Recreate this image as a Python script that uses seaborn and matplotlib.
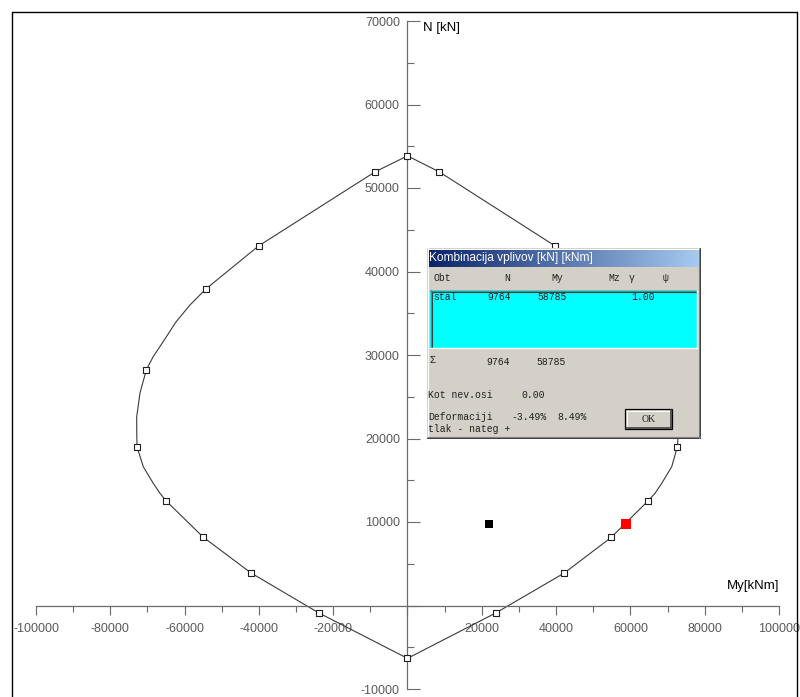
import numpy as np
import pandas as pd
import matplotlib
matplotlib.use("Agg")
import matplotlib.pyplot as plt
import seaborn as sns
from matplotlib.patches import Rectangle
from matplotlib.lines import Line2D

# ---------------- data ----------------
curve_My = [0, 8560, 39700, 54240, 58550, 62320, 65820, 68510, 70300, 72010, 72900, 72870,
            72630, 71120, 68430, 66630, 64740, 54870, 42210, 23740, 0,
            -23830, -42130, -55060, -65000, -66630, -68430, -71120, -72800, -72870, -72900,
            -72010, -70300, -68510, -65820, -62320, -58550, -54240, -40060, -8750, 0]
curve_N = [53850, 51930, 43070, 37920, 35990, 33960, 31560, 29760, 28220, 25450, 22570, 20420,
           18990, 16620, 14630, 13440, 12520, 8170, 3890, -900, -6330,
           -900, 3900, 8210, 12540, 13440, 14630, 16620, 18990, 20420, 22570,
           25450, 28220, 29760, 31560, 33960, 35990, 37920, 43070, 51930, 53850]
curve_marked = [1, 1, 1, 1, 0, 0, 0, 0, 1, 0, 0, 0,
                1, 0, 0, 0, 1, 1, 1, 1, 1,
                1, 1, 1, 1, 0, 0, 0, 1, 0, 0,
                0, 1, 0, 0, 0, 0, 1, 1, 1, 0]
load_My = [58785]
load_N = [9764]
other_My = [21940]
other_N = [9764]

x_ticks = list(range(-100000, 100001, 20000))
y_ticks = list(range(-10000, 70001, 10000))
x_label = "My[kNm]"
y_label = "N [kN]"

dlg_title = "Kombinacija vplivov [kN] [kNm]"
dlg_header = ["Obt", "N", "My", "Mz", "γ", "ψ"]
dlg_row = ["stal", "9764", "58785", "1.00"]
dlg_sum = ["Σ", "9764", "58785"]
dlg_angle = ["Kot nev.osi", "0.00"]
dlg_def = ["Deformaciji", "-3.49%", "8.49%"]
dlg_note = "tlak - nateg +"

# ---------------- figure ----------------
sns.set_theme(style="white")
plt.rcParams['font.family'] = ['Liberation Sans', 'DejaVu Sans']

W, H = 800, 697
fig = plt.figure(figsize=(W / 100, H / 100), dpi=100)
ax = fig.add_axes([0, 0, 1, 1])
ax.set_facecolor("white")

df = pd.DataFrame({"My": curve_My, "N": curve_N, "m": curve_marked})
sns.lineplot(data=df, x="My", y="N", sort=False, estimator=None, ax=ax,
             color="#3a3a3a", linewidth=0.8, zorder=2)
mk = df[df["m"] == 1]
sns.scatterplot(data=mk, x="My", y="N", ax=ax, marker="s", s=18,
                facecolor="white", edgecolor="#202020", linewidth=0.8, zorder=3)
sns.scatterplot(x=load_My, y=load_N, ax=ax, marker="s", s=45,
                color="#ff0000", linewidth=0, zorder=4)
sns.scatterplot(x=other_My, y=other_N, ax=ax, marker="s", s=38,
                color="black", linewidth=0, zorder=4)

px_per = 743 / 200000.0
x0 = 407.5
ax.set_xlim(-x0 / px_per, (W - x0) / px_per)
ny = 83.5 / 10000.0
y0 = 605.5
ax.set_ylim(-(H - y0) / ny, y0 / ny)
ax.set_xlabel("")
ax.set_ylabel("")

axis_col = "#6a6a6a"
for s in ["top", "right"]:
    ax.spines[s].set_visible(False)
ax.spines["left"].set_position(("data", 0))
ax.spines["bottom"].set_position(("data", 0))
ax.spines["left"].set_bounds(-10000, 70000)
ax.spines["bottom"].set_bounds(-100000, 100000)
for s in ["left", "bottom"]:
    ax.spines[s].set_color(axis_col)
    ax.spines[s].set_linewidth(0.9)

ax.set_xticks(x_ticks)
ax.set_xticklabels(["" if v == 0 else str(v) for v in x_ticks])
ax.set_xticks([v for v in range(-90000, 100000, 20000)], minor=True)
ax.set_yticks(y_ticks)
ax.set_yticklabels(["" if v == 0 else str(v) for v in y_ticks])
ax.set_yticks([v for v in range(-5000, 70000, 10000)], minor=True)

ax.tick_params(axis="x", which="major", direction="out", length=6.6, width=0.8,
               color=axis_col, labelsize=9, labelcolor="#5a5a5a", pad=6, bottom=True)
ax.tick_params(axis="x", which="minor", direction="out", length=4.5, width=0.8,
               color=axis_col, bottom=True)
ax.tick_params(axis="y", which="major", direction="in", length=9.4, width=0.8,
               color=axis_col, labelsize=9, labelcolor="#5a5a5a", pad=5.5, left=True)
ax.tick_params(axis="y", which="minor", direction="in", length=5, width=0.8,
               color=axis_col, left=True)

def fx(px):
    return px / W

def fy(py):
    return 1 - py / H

fig.text(fx(423), fy(28), y_label, fontsize=9.5, color="black", ha="left", va="center")
fig.text(fx(779), fy(586), x_label, fontsize=9.5, color="black", ha="right", va="center")

# outer frame
for xs, ys in [((12, 12), (12, H)), ((12, 797), (12, 12)), ((797, 797), (12, H))]:
    fig.add_artist(Line2D([fx(xs[0]), fx(xs[1])], [fy(ys[0]), fy(ys[1])],
                          color="black", linewidth=1.0, transform=fig.transFigure))

# ---------------- dialog ----------------
L, R, T, B = 427, 701, 248, 439
axd = fig.add_axes([fx(L), fy(B), (R - L) / W, (B - T) / H])
axd.set_xlim(L, R)
axd.set_ylim(B, T)
axd.axis("off")
gray = "#d4d0c8"
axd.add_patch(Rectangle((L, T), R - L, B - T, facecolor=gray, edgecolor="none"))
axd.plot([L + 0.5, R - 1], [T + 0.5, T + 0.5], color="white", lw=0.8)
axd.plot([L + 0.5, L + 0.5], [T, B - 1], color="white", lw=0.8)
axd.plot([R - 0.6, R - 0.6], [T, B], color="#404040", lw=1.0)
axd.plot([L, R], [B - 0.6, B - 0.6], color="#404040", lw=1.0)
axd.plot([R - 1.8, R - 1.8], [T + 1, B - 1.5], color="#808080", lw=0.8)
axd.plot([L + 1, R - 1.5], [B - 1.8, B - 1.8], color="#808080", lw=0.8)

grad = np.linspace(0, 1, 256)[None, :]
cmap = matplotlib.colors.LinearSegmentedColormap.from_list("tb", ["#0a246a", "#a6caf0"])
axd.imshow(grad, extent=(429, R - 2.5, 267, 250), aspect="auto", cmap=cmap, zorder=2)
axd.set_xlim(L, R)
axd.set_ylim(B, T)
axd.text(429, 258.5, dlg_title, fontsize=8.6, color="white", ha="left", va="center", zorder=3)

mono = dict(family=["Liberation Mono", "DejaVu Sans Mono"], fontsize=7, color="#202020",
            va="center", zorder=3)
hx = [433, 507, 557, 614, 632, 666]
for t, x in zip(dlg_header, hx):
    axd.text(x, 278, t, ha="left" if t == "Obt" else "center", **mono)

axd.add_patch(Rectangle((430, 290), 267, 58, facecolor="#00ffff", edgecolor="none", zorder=2))
axd.plot([430, 697], [290.5, 290.5], color="#808080", lw=1.0, zorder=3)
axd.plot([430.5, 430.5], [290, 348], color="#808080", lw=1.0, zorder=3)
axd.plot([431.5, 696], [291.6, 291.6], color="#404040", lw=0.8, zorder=3)
axd.plot([431.6, 431.6], [291.5, 347], color="#404040", lw=0.8, zorder=3)
axd.plot([430, 697], [348, 348], color="white", lw=1.0, zorder=3)
axd.plot([697, 697], [290, 348], color="white", lw=1.0, zorder=3)

for t, x in zip(dlg_row, [433, 487, 537, 631]):
    axd.text(x, 297, t, ha="left", **mono)
axd.text(429, 360, dlg_sum[0], ha="left", **mono)
axd.text(486, 362, dlg_sum[1], ha="left", **mono)
axd.text(536, 362, dlg_sum[2], ha="left", **mono)
axd.text(428, 395, dlg_angle[0], ha="left", **mono)
axd.text(521, 395, dlg_angle[1], ha="left", **mono)
axd.text(428, 416.5, dlg_def[0], ha="left", **mono)
axd.text(511, 416.5, dlg_def[1], ha="left", **mono)
axd.text(557, 416.5, dlg_def[2], ha="left", **mono)
axd.text(428, 429.5, dlg_note, ha="left", **mono)

# OK button
axd.add_patch(Rectangle((625, 409), 47, 20, facecolor=gray, edgecolor="black", lw=0.9, zorder=2))
axd.plot([626.5, 670], [410.5, 410.5], color="white", lw=0.8, zorder=3)
axd.plot([626.5, 626.5], [410.5, 427.5], color="white", lw=0.8, zorder=3)
axd.plot([670.5, 670.5], [410, 428], color="#404040", lw=1.2, zorder=3)
axd.plot([626, 671], [427.5, 427.5], color="#404040", lw=1.2, zorder=3)
axd.text(648.5, 419, "OK", ha="center", family=["Liberation Serif", "DejaVu Serif"],
         fontsize=7, color="#202020", va="center", zorder=4)

fig.savefig("out.png", dpi=100)
